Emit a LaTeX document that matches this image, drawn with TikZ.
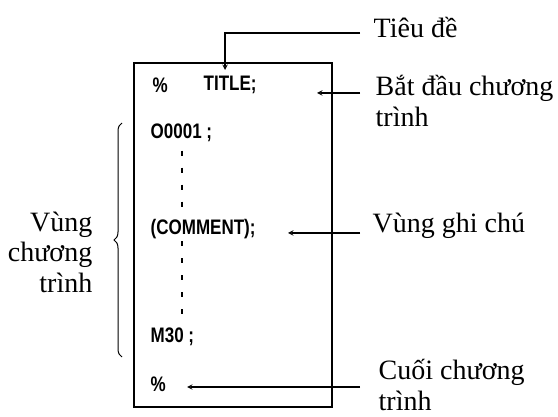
\documentclass[tikz,border=0pt]{standalone}
\usepackage{fontspec}
\setmainfont{Liberation Serif}
\newfontfamily\codefont[FakeStretch=0.81]{Liberation Sans}
\usetikzlibrary{decorations.pathreplacing}

\tikzset{
  note/.style={font=\fontsize{28}{31}\selectfont, inner sep=0pt, align=left},
  code/.style={font=\codefont\bfseries\fontsize{21}{25}\selectfont, inner sep=0pt, anchor=west},
  dots/.style={line width=1.6pt, dash pattern=on 5pt off 12pt},
}

\begin{document}
\begin{tikzpicture}[>=stealth, x=1pt, y=-1pt, line width=1.4pt]
    \useasboundingbox (0,0) rectangle (558,417);

    % program listing
    \node[draw, line width=1.8pt, minimum width=198pt, minimum height=344pt, inner sep=0pt] (box) at (233,235) {};
    \node[code] (pct1) at (152,85) {\%};
    \node[code] (title) at (203,85) {TITLE;};
    \node[code] (o0001) at (150,133) {O0001 ;};
    \node[code] (comment) at (150,229) {(COMMENT);};
    \node[code] (m30) at (150,337) {M30 ;};
    \node[code] (pct2) at (150,384) {\%};

    \coordinate (dashx) at (182,0);
    \draw[dots, shorten <=8pt, shorten >=10pt] (o0001.south -| dashx) -- (comment.north -| dashx);
    \draw[dots, shorten <=2pt, shorten >=8pt] (comment.south -| dashx) -- (m30.north -| dashx);

    % labels
    \node[note, anchor=base west] (tieude) at (373,38) {Tiêu đề};
    \node[note, anchor=base west] (batdau) at (375,127) {Bắt đầu chương\\trình};
    \node[note, anchor=base west] (ghichu) at (372,233) {Vùng ghi chú};
    \node[note, anchor=base west] (cuoi) at (378,410) {Cuối chương\\trình};
    \node[note, anchor=base east, align=right] (vung) at (93,293) {Vùng\\chương\\trình};

    \coordinate (titletip) at (225,70);
    \coordinate (begintip) at (317,93);
    \coordinate (commenttip) at (288,233);
    \coordinate (endtip) at (187,387);

    \draw[->] (tieude.base west) ++(-13,-5) -| (titletip);
    \draw[->] (batdau.base west) ++(-15,-34) -- (begintip);
    \draw[->] (ghichu.base west) ++(-12,0) -- (commenttip);
    \draw[->] (cuoi.base west) ++(-18,-23) -- (endtip);

    \draw[line width=1pt, decorate, decoration={brace, amplitude=8pt}] (122,357) -- (122,123);
\end{tikzpicture}
\end{document}
